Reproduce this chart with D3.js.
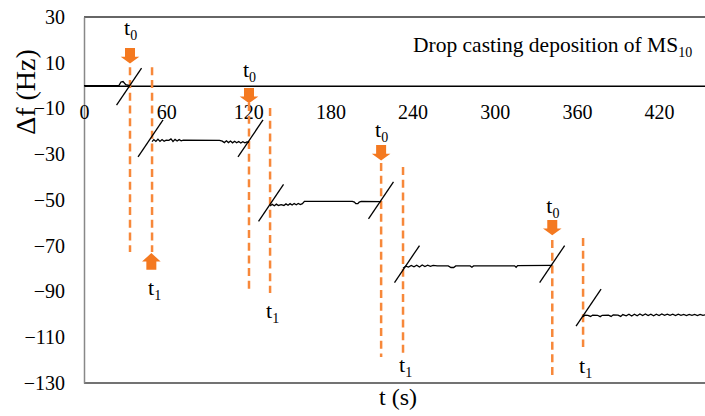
<!doctype html>
<html lang="en">

<head>
  <title>Drop casting deposition of MS10</title>
  <meta charset="utf-8" />
  <script src="https://cdn.jsdelivr.net/npm/d3@7"></script>
  <style>
    body { margin: 0; background: #fff; }
    svg text { font-family: "Liberation Serif", "Times New Roman", serif; fill: #000; }
  </style>
  <script>
    // axis ticks
    const xTicks = [0, 60, 120, 180, 240, 300, 360, 420];
    const yTicks = [30, 10, -10, -30, -50, -70, -90, -110, -130];

    // frequency trace, one array per plateau: [t (s), df (Hz)]
    const seg0 = [[0, 0], [25.5, 0], [27, 1.6], [28.5, 1.8], [30.5, 0.4], [33.6, 0]];
    const seg1 = [[49.7, -24.5], [51, -23.6], [52.5, -24.4], [54, -23.4], [55.5, -24.4], [57, -23.6],
      [58.5, -24.3], [60, -23.8], [62, -23.9], [63.5, -23.3], [65, -24.4], [66.5, -23.5], [68, -24.2],
      [69.5, -23.6], [71, -24.1], [72.5, -23.8], [99, -23.9], [101, -24.3], [102.5, -24.9], [104, -24.1],
      [105.5, -24.9], [107, -24.2], [108.5, -25], [110, -24.3], [111.5, -25], [113, -24.4], [114.5, -25.1],
      [116, -24.5], [117.5, -25], [119, -24.6], [120.5, -24.8]];
    const seg2 = [[135.9, -52.6], [137.5, -51.9], [139, -52.5], [140.5, -51.8], [142, -52.4], [144, -52],
      [146, -52.4], [147.5, -51.7], [149, -52.3], [150.5, -51.6], [152, -52.2], [153.5, -51.5], [155, -52.1],
      [156.5, -51.5], [158, -52], [159.5, -51.6], [161, -50.6], [196, -50.6], [197.5, -50.9], [198.5, -51.6],
      [200, -51.6], [201, -50.9], [202.5, -50.6], [217, -50.7]];
    const seg3 = [[233, -79.8], [235, -78.9], [237, -79.3], [239, -78.6], [241, -79.2], [243, -78.5],
      [245, -79.3], [247, -78.4], [249, -79.1], [251, -78.5], [253, -79], [255, -78.6], [258, -78.8],
      [266, -78.8], [268, -79.5], [270, -79.5], [271.5, -78.8], [282, -78.8], [283.3, -79.4], [284.5, -78.8],
      [314.5, -78.8], [315.6, -79.4], [316.7, -78.7], [342, -78.6]];
    const seg4 = [[364.5, -101], [366, -100.3], [368, -100.4], [370, -100.9], [371.5, -100.3], [375, -100.4],
      [377, -101], [378.5, -100.4], [383, -100.3], [385, -100.9], [386.5, -100.2], [390, -100.3], [392, -100.9],
      [393.5, -100.1], [396, -100.6], [398, -99.9], [400, -100.7], [402, -99.9], [404, -100.6], [406, -99.8],
      [408, -100.5], [410, -99.8], [412, -100.5], [414, -99.9], [416, -100.6], [418, -99.9], [420, -100.5],
      [422, -99.8], [424, -100.4], [426, -99.9], [428, -100.4], [430, -99.9], [432, -100.5], [434, -99.9],
      [436, -100.4], [438, -100], [440, -100.5], [442, -100], [444, -100.4], [446, -100], [448, -100.5],
      [450, -100], [452, -100.4], [455, -100.1]];

    // break marks across each jump
    const slashT = [32.9, 48.6, 121.6, 136.6, 216.9, 235.9, 341.9, 368.5];
    const slashF = [-0.4, -23.1, -23.1, -51.3, -50.2, -78, -78, -97];

    // drop events
    const t0 = [33.6, 120.5, 217, 342];
    const t1 = [49.7, 135.9, 233, 364.5];
    const t0LineTop = [8, -7.6, -33.8, -67.5];
    const t0LineBottom = [-72.7, -90.7, -118.6, -127.8];
    const t1LineTop = [8, -9.8, -35.6, -66.6];
    const t1LineBottom = [-72.7, -90.7, -118.6, -114.3];
    const t0ArrowTop = [16.4, -1, -26, -58.7];
    const t0LabelF = [22.1, 3.8, -22.5, -55.7];
    const t1LabelF = [-91.5, -101.6, -125.2, -125.6];
    const t1ArrowTip = [-73.2, null, null, null];

    window.onload = () => {
      const w = 705;
      const h = 416;
      const serif = '"Liberation Serif", "Times New Roman", serif';
      const svg = d3.select("#chart").append("svg").attr("width", w).attr("height", h);

      const x = d3.scaleLinear().domain([0, 455]).range([84, 707]);
      const y = d3.scaleLinear().domain([-130, 30]).range([383, 17]);

      // frame: top and bottom edges
      svg.append("line")
        .attr("x1", x(0)).attr("x2", w).attr("y1", y(30)).attr("y2", y(30))
        .style("stroke", "#333").style("stroke-width", 1.5);
      svg.append("line")
        .attr("x1", x(0)).attr("x2", w).attr("y1", y(-130)).attr("y2", y(-130))
        .style("stroke", "#444").style("stroke-width", 1.5);

      // y axis
      const yAxis = svg.append("g")
        .attr("transform", "translate(" + x(0) + ",0)")
        .call(d3.axisLeft(y).tickValues(yTicks).tickSize(0).tickPadding(19))
        .attr("font-family", serif)
        .attr("font-size", 20);
      yAxis.select(".domain").style("stroke", "#888").style("stroke-width", 1.5);

      // x axis crossing at 0 Hz
      const xAxis = svg.append("g")
        .attr("transform", "translate(0," + y(0) + ")")
        .call(d3.axisBottom(x).tickValues(xTicks).tickSize(0).tickPadding(19))
        .attr("font-family", serif)
        .attr("font-size", 20);
      xAxis.select(".domain").style("stroke", "#000").style("stroke-width", 1.5);

      // axis titles
      svg.append("text")
        .attr("transform", "translate(35,92) rotate(-90)")
        .attr("text-anchor", "middle")
        .style("font-size", "28px")
        .text("\u0394f (Hz)");
      svg.append("text")
        .attr("x", 398).attr("y", 405)
        .attr("text-anchor", "middle")
        .style("font-size", "24px")
        .text("t (s)");

      // chart title
      const title = svg.append("text")
        .attr("x", 413).attr("y", 52)
        .style("font-size", "21.5px");
      title.append("tspan").text("Drop casting deposition of MS");
      title.append("tspan").attr("dy", 5).style("font-size", "14px").text("10");

      // dashed event lines
      const dash = (t, top, bottom) => svg.append("line")
        .attr("x1", x(t)).attr("x2", x(t)).attr("y1", y(top)).attr("y2", y(bottom))
        .style("stroke", "#f7883a").style("stroke-width", 2.5).style("stroke-dasharray", "8,4.7");
      t0.forEach((t, i) => dash(t, t0LineTop[i], t0LineBottom[i]));
      t1.forEach((t, i) => dash(t, t1LineTop[i], t1LineBottom[i]));

      // trace
      const line = d3.line().x(d => x(d[0])).y(d => y(d[1]));
      svg.selectAll("path.trace")
        .data([seg0, seg1, seg2, seg3, seg4])
        .enter()
        .append("path")
        .attr("class", "trace")
        .attr("d", line)
        .style("fill", "none")
        .style("stroke", "#000")
        .style("stroke-width", 1.3);

      // break marks
      svg.selectAll("line.slash")
        .data(slashT)
        .enter()
        .append("line")
        .attr("class", "slash")
        .attr("x1", d => x(d) - 12.5)
        .attr("y1", (d, i) => y(slashF[i]) + 18.5)
        .attr("x2", d => x(d) + 12.5)
        .attr("y2", (d, i) => y(slashF[i]) - 18.5)
        .style("stroke", "#000")
        .style("stroke-width", 1.3);

      // block arrows
      const downArrow = "M-5,0 L5,0 L5,8.7 L9.3,8.7 L0,15.3 L-9.3,8.7 L-5,8.7 Z";
      const upArrow = "M0,0 L9.3,8.4 L5,8.4 L5,16.7 L-5,16.7 L-5,8.4 L-9.3,8.4 Z";
      t0.forEach((t, i) => {
        svg.append("path")
          .attr("d", downArrow)
          .attr("transform", "translate(" + x(t) + "," + y(t0ArrowTop[i]) + ")")
          .style("fill", "#f47920");
      });
      t1.forEach((t, i) => {
        if (t1ArrowTip[i] === null) return;
        svg.append("path")
          .attr("d", upArrow)
          .attr("transform", "translate(" + (x(t) - 0.7) + "," + y(t1ArrowTip[i]) + ")")
          .style("fill", "#f47920");
      });

      // t0 / t1 labels
      const label = (px, py, sub) => {
        const g = svg.append("text").attr("x", px).attr("y", py).style("font-size", "22px");
        g.append("tspan").text("t");
        g.append("tspan").attr("dy", 5).style("font-size", "14px").text(sub);
      };
      t0.forEach((t, i) => label(x(t) - 6, y(t0LabelF[i]), "0"));
      t1.forEach((t, i) => label(x(t) - 4, y(t1LabelF[i]), "1"));
    }
  </script>
</head>

<body>
  <figure id="chart" style="margin:0"></figure>
</body></html>
